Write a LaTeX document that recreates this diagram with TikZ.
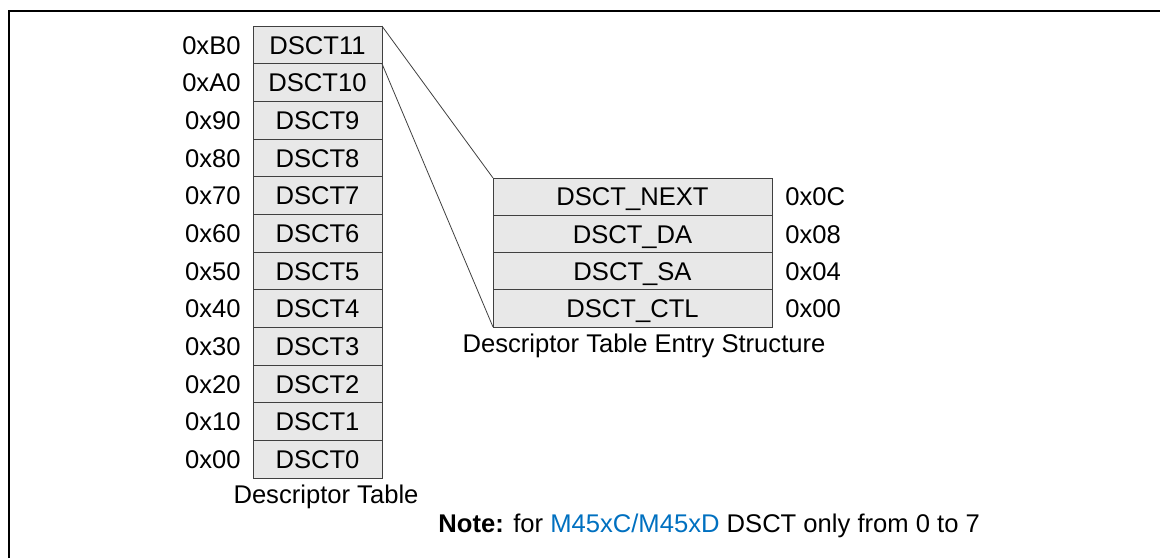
\documentclass[tikz,border=0pt]{standalone}
\usepackage{fontspec}
\setmainfont{Liberation Sans}
\usetikzlibrary{positioning}
\definecolor{cellgray}{RGB}{232,232,232}
\definecolor{noteblue}{RGB}{0,112,192}

\begin{document}
\begin{tikzpicture}[x=0.5pt,y=-0.5pt,font=\fontsize{12.8}{15}\selectfont,
  cell/.style={draw=black!75,fill=cellgray,inner sep=0pt,outer sep=0pt,
    minimum width=64.5pt,minimum height=18.83pt,text height=9.2pt,text depth=0pt},
  entry/.style={cell,minimum width=139.5pt,minimum height=18.63pt},
  addr/.style={inner sep=0pt,text height=9.2pt,text depth=0pt}]
  \useasboundingbox (0,0) rectangle (1160,558);
  \draw[line width=1pt] (9,558) -- (9,11) -- (1160,11);
  % descriptor table
  \node[cell] (d0) at (317.5,459.2) {DSCT0};
  \node[addr,left=6pt of d0] (a0) {0x00};
  \foreach \i/\j/\a in {1/0/10,2/1/20,3/2/30,4/3/40,5/4/50,6/5/60,7/6/70,8/7/80,9/8/90,10/9/A0,11/10/B0}{
    \node[cell,above=0pt of d\j] (d\i) {DSCT\i};
    \node[addr,left=6pt of d\i] (a\i) {0x\a};
  }
  \node[anchor=base] (tcap) at (326,503) {Descriptor Table};
  % entry structure
  \node[entry] (next) at (632.5,196.6) {DSCT\_NEXT};
  \node[entry,below=0pt of next] (da) {DSCT\_DA};
  \node[entry,below=0pt of da] (sa) {DSCT\_SA};
  \node[entry,below=0pt of sa] (ctl) {DSCT\_CTL};
  \node[addr,right=6.5pt of next] (onext) {0x0C};
  \node[addr,right=6.5pt of da] (oda) {0x08};
  \node[addr,right=6.5pt of sa] (osa) {0x04};
  \node[addr,right=6.5pt of ctl] (octl) {0x00};
  \node[anchor=base] (ecap) at (644,352) {Descriptor Table Entry Structure};
  \draw[black!75] (d11.north east) -- (next.north west);
  \draw[black!75] (d11.south east) -- (ctl.south west);
  \node[anchor=base west,inner sep=0pt] (note) at (438,532)
    {\textbf{Note:} for \textcolor{noteblue}{M45xC/M45xD} DSCT only from 0 to 7};
\end{tikzpicture}
\end{document}
